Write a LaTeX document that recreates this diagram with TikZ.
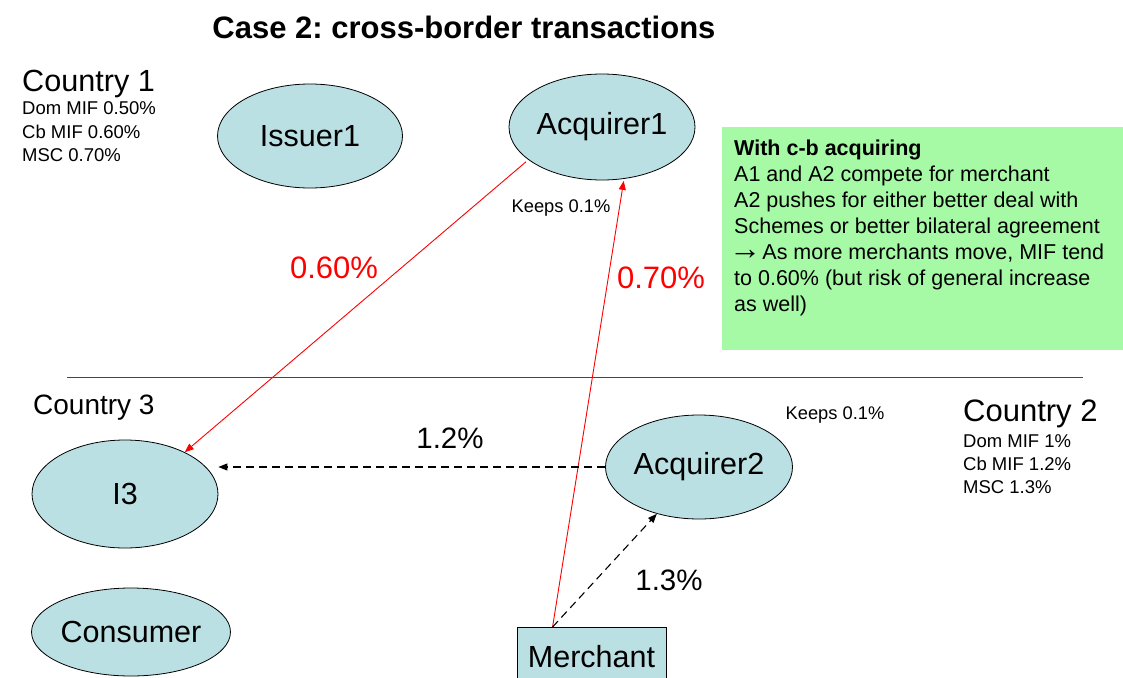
\documentclass[tikz,border=0pt]{standalone}
\usepackage{fontspec}
\usepackage{graphicx}
\setmainfont{Liberation Sans}
\usetikzlibrary{arrows.meta,calc,shapes.geometric}
\definecolor{partyblue}{RGB}{187,224,227}
\definecolor{notegreen}{RGB}{166,250,166}
\definecolor{rulegray}{RGB}{70,70,70}
\newcommand\fsz[1]{\fontsize{#1}{#1}\selectfont}
\newcommand\bigarrow{\kern-5pt\raisebox{0em}{\scalebox{1.5}{→}}\kern-5pt}
\frenchspacing

\begin{document}
\begin{tikzpicture}[x=1pt,y=-1pt,
  party/.style={ellipse,draw=black,line width=0.8pt,fill=partyblue,inner sep=0pt,font=\fsz{30.5}},
  shopbox/.style={rectangle,draw=black,line width=0.8pt,fill=partyblue,inner sep=0pt,font=\fsz{30.5}},
  redflow/.style={draw=red,line width=0.9pt,-{Triangle[length=9pt,width=7pt]}},
  dashflow/.style={draw=black,line width=1.1pt,dash pattern=on 8pt off 5pt,-{Triangle[length=9pt,width=7pt]}},
  rate/.style={font=\fsz{29.5}},
  redrate/.style={font=\fsz{31},text=red},
  small/.style={font=\fsz{18.3},inner sep=0pt},
  info/.style={font=\fsz{18.5},inner sep=0pt,anchor=base west},
  countryname/.style={inner sep=0pt,anchor=base west},
  notetext/.style={font=\fsz{21.5},inner sep=0pt,anchor=base west}]

\useasboundingbox (0,0) rectangle (1123,677);

% title
\node[font=\bfseries\fsz{31}] (title) at (464,27) {Case 2: cross-border transactions};

% country 1
\node[countryname,font=\fsz{30.6}] (c1) at (22,91.5) {Country 1};
\foreach \t [count=\i] in {Dom MIF 0.50\%, Cb MIF 0.60\%, MSC 0.70\%}
  \node[info] (c1info\i) at (22,{114.5+23.5*(\i-1)}) {\t};

% country 2
\node[countryname,font=\fsz{31}] (c2) at (963,421) {Country 2};
\foreach \t [count=\i] in {Dom MIF 1\%, Cb MIF 1.2\%, MSC 1.3\%}
  \node[info] (c2info\i) at (963,{447.5+23*(\i-1)}) {\t};

% country 3
\node[countryname,font=\fsz{28}] (c3) at (33,414.5) {Country 3};

% border between countries
\coordinate (bl) at (67,377);
\coordinate (br) at (1083,377);
\draw[rulegray,line width=1pt] (bl) -- (br);

% parties
\node[party,minimum width=185pt,minimum height=104pt] (I1) at (310,136) {Issuer1};
\node[party,minimum width=186pt,minimum height=106pt] (A1) at (602,127) {Acquirer1};
\node[party,minimum width=186pt,minimum height=108pt] (I3) at (125,494) {I3};
\node[party,minimum width=187pt,minimum height=104pt] (A2) at (699,467) {Acquirer2};
\node[party,minimum width=196pt,minimum height=88pt] (C) at (131,632) {Consumer};
\node[shopbox,minimum width=149pt,minimum height=58pt,anchor=north] (M) at (591.5,627) {Merchant};

% note box
\node[fill=notegreen,minimum width=401pt,minimum height=223pt,inner sep=0pt,anchor=north west] (note) at (722,127) {};
\node[notetext,font=\bfseries\fsz{21.5}] (n0) at (734,155) {With c-b acquiring};
\foreach \t [count=\i] in {A1 and A2 compete for merchant,
    A2 pushes for either better deal with,
    Schemes or better bilateral agreement,
    {\bigarrow{} As more merchants move, MIF tend},
    to 0.60\% (but risk of general increase,
    as well)}
  \node[notetext] (n\i) at (734,{155+26*\i}) {\t};

% keeps
\node[small] (k1) at (561,208) {Keeps 0.1\%};
\node[small] (k2) at (835,415) {Keeps 0.1\%};

% flows
\coordinate (mt) at ($(M.north west)!0.24!(M.north east)$);
\coordinate (i3in) at (I3.east |- A2.west);
\draw[redflow,shorten <=3pt] (A1.-156) -- (I3.35);
\draw[redflow,shorten >=2pt] (mt) -- (A1.-67.5);
\draw[dashflow] (A2.west) -- (i3in);
\draw[dashflow] (mt) -- (A2.-132);

% rates
\node[redrate] (r1) at (334,268) {0.60\%};
\node[redrate] (r2) at (661,278) {0.70\%};
\node[rate] (r3) at (450,438) {1.2\%};
\node[rate] (r4) at (669,580) {1.3\%};
\end{tikzpicture}
\end{document}
